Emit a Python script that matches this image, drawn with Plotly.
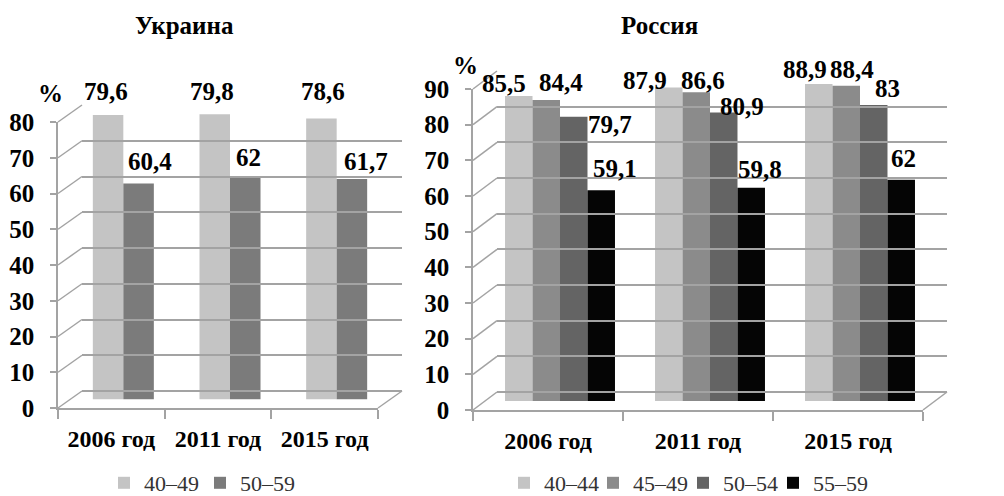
import plotly.graph_objects as go

# ---------------- data ----------------
years = ["2006 год", "2011 год", "2015 год"]

ua_series = ["40–49", "50–59"]
ua_40_49 = [79.6, 79.8, 78.6]
ua_50_59 = [60.4, 62.0, 61.7]

ru_series = ["40–44", "45–49", "50–54", "55–59"]
ru_40_44 = [85.5, 87.9, 88.9]
ru_45_49 = [84.4, 86.6, 88.4]
ru_50_54 = [79.7, 80.9, 83.0]
ru_55_59 = [59.1, 59.8, 62.0]

ua_ticks = list(range(0, 81, 10))
ru_ticks = list(range(0, 91, 10))

# ---------------- styling ----------------
W, H = 1004, 496          # window size
OFF = 8                   # page body margin
FW, FH = W - OFF, H - OFF  # figure size
FONT = "Liberation Serif, Times New Roman, serif"
GRID = "#a3a3a3"
ua_colors = ["#c4c4c4", "#7b7b7b"]
ru_colors = ["#c4c4c4", "#8b8b8b", "#646464", "#050505"]

# legend marker centres (window px) for each series
ua_legend_x = [129, 225]
ru_legend_x = [529, 618, 708, 798]

# label nudges (pixels) so labels sit like the original
ua_dx = [[-2, -3, 2], [11, 3, 14]]
ua_dy = [[23, 23, 27], [22, 20, 17]]
ru_dx = [[-15, -24, -14], [15, 7, 6], [36, 18, 14], [14, 9, 2]]
ru_dy = [[13, 7, 14], [17, 12, 16], [-8, 6, 16], [22, 18, 21]]


def px(x):
    return (x - OFF) / FW


def py(y):
    return 1 - (y - OFF) / FH


def fmt(v):
    return f"{v:g}".replace(".", ",")


# panel geometry in window pixels: front frame, depth offset
panels = {
    "ua": dict(x0=58, x1=378, y0=408, ytop=122, vmax=80, dx=24, dy=17),
    "ru": dict(x0=473, x1=923, y0=410, ytop=89, vmax=90, dx=24, dy=18),
}

fig = go.Figure()
layout = dict(
    width=FW, height=FH, margin=dict(l=0, r=0, t=0, b=0, autoexpand=False),
    paper_bgcolor="white", plot_bgcolor="rgba(0,0,0,0)",
    showlegend=True, font=dict(family=FONT, color="black"),
)
shapes = []
annotations = []
BOLD = dict(family=FONT, color="black", weight="bold")
legend_count = [0]


def setup_panel(key, ids, series, values, colors, dxs, dys, ticks, legend_xs, bar_frac):
    g = panels[key]
    fx, mx, bx = ids  # axis numbers for front, mid, back
    vmax = g["vmax"]
    f_dom_x = [px(g["x0"]), px(g["x1"])]
    f_dom_y = [py(g["y0"]), py(g["ytop"])]
    m_dom_x = [px(g["x0"] + g["dx"] / 2), px(g["x1"] + g["dx"] / 2)]
    m_dom_y = [py(g["y0"] - g["dy"] / 2), py(g["ytop"] - g["dy"] / 2)]
    b_dom_x = [px(g["x0"] + g["dx"]), px(g["x1"] + g["dx"])]
    b_dom_y = [py(g["y0"] - g["dy"]), py(g["ytop"] - g["dy"])]

    def an(n):
        return "" if n == 1 else str(n)

    cat = dict(type="category", categoryorder="array", categoryarray=years, range=[-0.5, 2.5])
    layout["xaxis" + an(fx)] = dict(
        domain=f_dom_x, anchor="y" + an(fx), **cat,
        showline=True, linecolor=GRID, linewidth=1.5,
        ticks="outside", tickson="boundaries", ticklen=9, tickcolor=GRID, tickwidth=1.5,
        tickfont=dict(size=24, **BOLD), ticklabelstandoff=8,
        showgrid=False, zeroline=False, fixedrange=True,
    )
    layout["yaxis" + an(fx)] = dict(
        domain=f_dom_y, anchor="x" + an(fx), range=[0, vmax],
        tickvals=ticks, showline=True, linecolor=GRID, linewidth=1.5,
        ticks="outside", ticklen=6, tickcolor=GRID, tickwidth=1.5,
        tickfont=dict(size=25, **BOLD), ticklabelstandoff=11,
        showgrid=False, zeroline=False, fixedrange=True,
    )
    layout["xaxis" + an(mx)] = dict(domain=m_dom_x, anchor="y" + an(mx), **cat, visible=False)
    layout["yaxis" + an(mx)] = dict(domain=m_dom_y, anchor="x" + an(mx), range=[0, vmax], visible=False)
    layout["xaxis" + an(bx)] = dict(domain=b_dom_x, anchor="y" + an(bx), **cat,
                                    showticklabels=False, showgrid=False, zeroline=False,
                                    showline=False, ticks="")
    layout["yaxis" + an(bx)] = dict(domain=b_dom_y, anchor="x" + an(bx), range=[0, vmax],
                                    tickvals=ticks, showticklabels=False, ticks="",
                                    showgrid=True, gridcolor=GRID, gridwidth=1.5,
                                    zeroline=True, zerolinecolor=GRID, zerolinewidth=1.5,
                                    showline=False)

    # placeholder traces so frame axes render
    for n in (fx, bx):
        fig.add_trace(go.Scatter(x=years, y=[None] * 3, xaxis="x" + an(n), yaxis="y" + an(n),
                                 showlegend=False, hoverinfo="skip"))

    # diagonal depth edges from front ticks to back wall
    for t in ticks:
        fy = g["y0"] - (g["y0"] - g["ytop"]) * t / vmax
        shapes.append(dict(type="line", xref="paper", yref="paper",
                           x0=px(g["x0"]), y0=py(fy), x1=px(g["x0"] + g["dx"]), y1=py(fy - g["dy"]),
                           line=dict(color=GRID, width=1.5), layer="below"))
    shapes.append(dict(type="line", xref="paper", yref="paper",
                       x0=px(g["x1"]), y0=py(g["y0"]), x1=px(g["x1"] + g["dx"]), y1=py(g["y0"] - g["dy"]),
                       line=dict(color=GRID, width=1.5), layer="below"))

    # bars
    n = len(series)
    w = bar_frac / n
    for j, (name, vals, col) in enumerate(zip(series, values, colors)):
        off = -bar_frac / 2 + w * j
        legend_count[0] += 1
        lname = "legend" if legend_count[0] == 1 else f"legend{legend_count[0]}"
        layout[lname] = dict(
            orientation="h", x=px(legend_xs[j] - 25), xanchor="left", y=py(483), yanchor="middle",
            font=dict(family=FONT, size=22, color="#333333"), bgcolor="rgba(0,0,0,0)",
            itemclick=False, itemdoubleclick=False,
        )
        fig.add_trace(go.Bar(
            x=years, y=vals, name=name, width=w, offset=off,
            marker=dict(color=col, line=dict(width=0)),
            xaxis="x" + an(mx), yaxis="y" + an(mx), legend=lname,
            hovertemplate="%{x}: %{y}<extra>" + name + "</extra>",
        ))
        for i, v in enumerate(vals):
            annotations.append(dict(
                xref="x" + an(mx), yref="y" + an(mx), x=i + off + w / 2, y=v,
                text=fmt(v), showarrow=False, xanchor="center", yanchor="middle",
                xshift=dxs[j][i], yshift=dys[j][i],
                font=dict(size=25, **BOLD),
            ))


setup_panel("ua", (1, 2, 3), ua_series, [ua_40_49, ua_50_59], ua_colors, ua_dx, ua_dy,
            ua_ticks, ua_legend_x, 0.572)
setup_panel("ru", (4, 5, 6), ru_series, [ru_40_44, ru_45_49, ru_50_54, ru_55_59], ru_colors,
            ru_dx, ru_dy, ru_ticks, ru_legend_x, 0.733)

# titles and % labels
annotations += [
    dict(xref="paper", yref="paper", x=px(184), y=py(26), text="Украина", showarrow=False,
         xanchor="center", yanchor="middle", font=dict(size=25, **BOLD)),
    dict(xref="paper", yref="paper", x=px(659), y=py(26), text="Россия", showarrow=False,
         xanchor="center", yanchor="middle", font=dict(size=25, **BOLD)),
    dict(xref="paper", yref="paper", x=px(50), y=py(93), text="%", showarrow=False,
         xanchor="center", yanchor="middle", font=dict(size=25, **BOLD)),
    dict(xref="paper", yref="paper", x=px(465), y=py(66), text="%", showarrow=False,
         xanchor="center", yanchor="middle", font=dict(size=25, **BOLD)),
]

layout["shapes"] = shapes
layout["annotations"] = annotations
layout["barmode"] = "overlay"
fig.update_layout(**layout)
fig.write_html("out.html")
